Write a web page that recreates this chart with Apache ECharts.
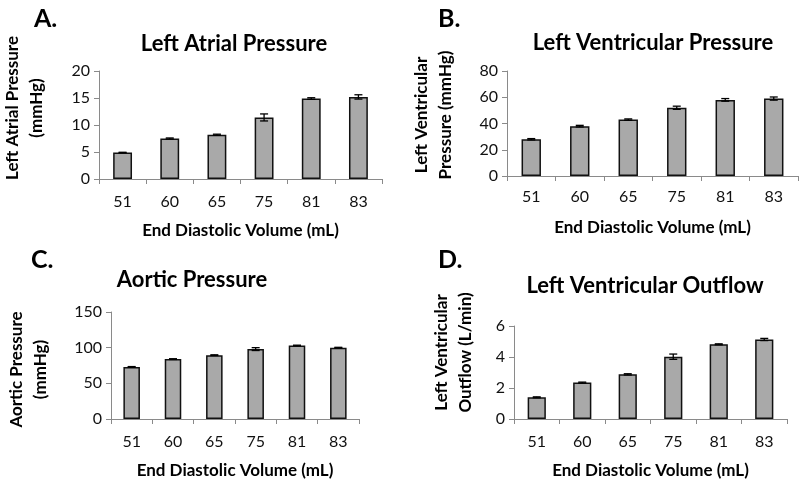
<!DOCTYPE html>
<html>
<head>
<meta charset="utf-8">
<script src="https://cdn.jsdelivr.net/npm/echarts@6/dist/echarts.min.js"></script>
<style>html,body{margin:0;padding:0;background:#fff}#c{width:800px;height:482px}</style>
</head>
<body>
<div id="c"></div>
<script>
var categories = ['51', '60', '65', '75', '81', '83'];
var laPressure = [4.9, 7.5, 8.2, 11.4, 14.9, 15.2];
var laPressureErr = [0.05, 0.1, 0.1, 0.65, 0.15, 0.4];
var lvPressure = [28, 38, 43, 52, 58, 59];
var lvPressureErr = [0.5, 0.6, 0.5, 1.2, 1.0, 1.2];
var aoPressure = [73, 84, 89.5, 98, 103, 100];
var aoPressureErr = [0.5, 0.5, 0.5, 2.0, 0.5, 0.5];
var lvOutflow = [1.4, 2.35, 2.88, 4.02, 4.82, 5.13];
var lvOutflowErr = [0.03, 0.03, 0.04, 0.17, 0.03, 0.07];

var panelTitles = ['Left Atrial Pressure', 'Left Ventricular Pressure', 'Aortic Pressure', 'Left Ventricular Outflow'];
var panelLetters = ['A.', 'B.', 'C.', 'D.'];
var yNames = ['Left Atrial Pressure\n(mmHg)', 'Left Ventricular\nPressure (mmHg)', 'Aortic Pressure\n(mmHg)', 'Left Ventricular\nOutflow (L/min)'];
var xName = 'End Diastolic Volume (mL)';
var yMax = [20, 80, 150, 6];
var yInterval = [5, 20, 50, 2];

var FONT = 'Lato';
var values = [laPressure, lvPressure, aoPressure, lvOutflow];
var errs = [laPressureErr, lvPressureErr, aoPressureErr, lvOutflowErr];

var grids = [
  {left: 92, top: 71, width: 290, height: 108},
  {left: 507, top: 71, width: 291, height: 105},
  {left: 111, top: 312, width: 248, height: 107},
  {left: 514, top: 326, width: 273, height: 93}
];
var titlePos = [[229, 28], [648, 27], [187, 264], [640, 270]];
var letterPos = [[29, 1], [433, 1], [26, 242], [433, 242]];
var yNameGap = [50, 49, 58, 36];
var yNamePad = [[0, 0, 0, 34], [0, 0, 0, 17], [0, 8, 0, 0], [0, 0, 0, 40]];
var xLabelMargin = [15, 13, 15, 15];

var titles = [];
for (var i = 0; i < 4; i++) {
  titles.push({text: panelTitles[i], left: titlePos[i][0], top: titlePos[i][1], textAlign: 'center',
    textStyle: {fontFamily: FONT, fontWeight: 'bold', fontSize: 22, color: '#000'}});
  titles.push({text: panelLetters[i], left: letterPos[i][0], top: letterPos[i][1],
    textStyle: {fontFamily: FONT, fontWeight: 'bold', fontSize: 25, color: '#000'}});
}

var xAxes = [], yAxes = [], series = [];
for (var i = 0; i < 4; i++) {
  xAxes.push({
    type: 'category', gridIndex: i, data: categories,
    axisLine: {lineStyle: {color: '#8a8a8a', width: 1}},
    axisTick: {show: true, length: 5, lineStyle: {color: '#8a8a8a'}},
    axisLabel: {fontFamily: FONT, fontSize: 16, color: '#111', margin: xLabelMargin[i]},
    name: xName, nameLocation: 'middle', nameGap: 43,
    nameTextStyle: {fontFamily: FONT, fontWeight: 'bold', fontSize: 17, color: '#000', verticalAlign: 'top'}
  });
  yAxes.push({
    type: 'value', gridIndex: i, min: 0, max: yMax[i], interval: yInterval[i],
    splitLine: {show: false},
    axisLine: {show: true, lineStyle: {color: '#8a8a8a', width: 1}},
    axisTick: {show: true, length: 5, lineStyle: {color: '#8a8a8a'}},
    axisLabel: {fontFamily: FONT, fontSize: 16, color: '#111', margin: 9},
    name: yNames[i], nameLocation: 'middle', nameRotate: 90, nameGap: yNameGap[i],
    nameTextStyle: {fontFamily: FONT, fontWeight: 'bold', fontSize: 17, color: '#000', lineHeight: 24, padding: yNamePad[i]}
  });
  series.push({
    type: 'bar', xAxisIndex: i, yAxisIndex: i, data: values[i], barWidth: '40%',
    itemStyle: {color: '#a9a9a9', borderColor: '#111', borderWidth: 1.5},
    animation: false
  });
  var ed = [];
  for (var k = 0; k < categories.length; k++) {
    ed.push([k, values[i][k] - errs[i][k], values[i][k] + errs[i][k]]);
  }
  series.push({
    type: 'custom', xAxisIndex: i, yAxisIndex: i, data: ed, animation: false, z: 5,
    renderItem: function (params, api) {
      var x = api.value(0);
      var lo = api.coord([x, api.value(1)]);
      var hi = api.coord([x, api.value(2)]);
      var hw = 4;
      var st = {stroke: '#000', lineWidth: 1.3};
      return {type: 'group', children: [
        {type: 'line', shape: {x1: lo[0], y1: lo[1], x2: hi[0], y2: hi[1]}, style: st},
        {type: 'line', shape: {x1: lo[0] - hw, y1: lo[1], x2: lo[0] + hw, y2: lo[1]}, style: st},
        {type: 'line', shape: {x1: hi[0] - hw, y1: hi[1], x2: hi[0] + hw, y2: hi[1]}, style: st}
      ]};
    }
  });
}

var chart = echarts.init(document.getElementById('c'), null, {renderer: 'canvas'});
chart.setOption({
  backgroundColor: '#fff',
  animation: false,
  title: titles,
  grid: grids,
  xAxis: xAxes,
  yAxis: yAxes,
  series: series
});
</script>
</body>
</html>
